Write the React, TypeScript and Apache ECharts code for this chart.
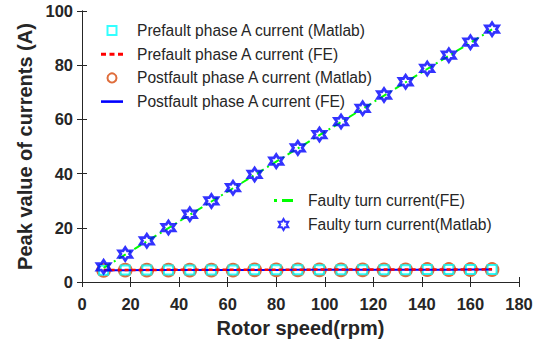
import React, { useEffect, useRef } from "react";
import * as echarts from "echarts";

const rotorSpeed = [8.9, 17.8, 26.7, 35.6, 44.4, 53.3, 62.2, 71.1, 80.0, 88.9, 97.8, 106.7, 115.6, 124.4, 133.3, 142.2, 151.1, 160.0, 168.9];
const prefaultMatlab = [4.3, 4.4, 4.4, 4.4, 4.4, 4.4, 4.4, 4.5, 4.5, 4.5, 4.5, 4.5, 4.5, 4.5, 4.5, 4.6, 4.6, 4.6, 4.6];
const prefaultFE = [4.4, 4.4, 4.4, 4.5, 4.5, 4.5, 4.5, 4.5, 4.5, 4.5, 4.6, 4.6, 4.6, 4.6, 4.6, 4.6, 4.6, 4.6, 4.7];
const postfaultMatlab = [4.3, 4.4, 4.4, 4.4, 4.4, 4.4, 4.4, 4.5, 4.5, 4.5, 4.5, 4.5, 4.5, 4.5, 4.5, 4.6, 4.6, 4.6, 4.6];
const postfaultFE = [4.3, 4.3, 4.4, 4.4, 4.4, 4.4, 4.4, 4.4, 4.4, 4.5, 4.5, 4.5, 4.5, 4.5, 4.5, 4.5, 4.5, 4.6, 4.6];
const faultyFE = [5.2, 10.1, 15.0, 19.9, 24.8, 29.7, 34.6, 39.5, 44.4, 49.3, 54.2, 59.0, 63.9, 68.8, 73.7, 78.6, 83.5, 88.3, 93.2];
const faultyMatlab = [5.6, 10.3, 15.2, 20.1, 25.0, 29.9, 34.8, 39.7, 44.6, 49.5, 54.4, 59.2, 64.1, 69.0, 73.9, 78.8, 83.7, 88.5, 93.3];

const names = [
  "Prefault phase A current (Matlab)",
  "Prefault phase A current (FE)",
  "Postfault phase A current (Matlab)",
  "Postfault phase A current (FE)",
  "Faulty turn current(FE)",
  "Faulty turn current(Matlab)",
];

function hexagramPath(): string {
  const pts: string[] = [];
  for (let i = 0; i < 12; i++) {
    const a = Math.PI / 2 + (i * Math.PI) / 6;
    const r = i % 2 === 0 ? 1 : 0.577;
    const x = 1 + r * Math.cos(a);
    const y = 1 - r * Math.sin(a);
    pts.push(`${i === 0 ? "M" : "L"}${x.toFixed(3)} ${y.toFixed(3)}`);
  }
  return "path://" + pts.join(" ") + " Z";
}

const pairs = (ys: number[]) => rotorSpeed.map((x, i) => [x, ys[i]]);

export default function App() {
  const ref = useRef<HTMLDivElement>(null);
  useEffect(() => {
    if (!ref.current) return;
    const chart = echarts.init(ref.current, null, { renderer: "svg" });
    const font = "Liberation Sans";
    const tickLabel = { fontFamily: font, fontSize: 16.5, fontWeight: "bold" as const, color: "#262626" };
    const axisLine = { lineStyle: { color: "#262626", width: 1 } };
    const star = hexagramPath();
    const legendText = { fontFamily: font, fontSize: 15.6, lineHeight: 15, color: "#262626" };
    const square = "path://M0 0h10v10h-10z";
    const redDash = "path://M0 0h5v3h-5z M8.5 0h5v3h-5z M17 0h5v3h-5z";
    const blueSolid = "path://M0 0h22v2.6h-22z";
    const greenDashDot = "path://M0 0h3v3h-3z M8 0h11v3h-11z";
    chart.setOption({
      animation: false,
      backgroundColor: "#ffffff",
      grid: { left: 82, right: 32, top: 11, bottom: 60 },
      legend: [
        {
          data: [
            { name: names[0], icon: square },
            { name: names[1], icon: redDash },
            { name: names[2], icon: "circle" },
            { name: names[3], icon: blueSolid },
          ],
          orient: "vertical",
          left: 101,
          top: 22.5,
          padding: 0,
          itemWidth: 22,
          itemHeight: 9,
          itemGap: 7.7,
          textStyle: { ...legendText, padding: [0, 0, 0, 9] },
        },
        {
          data: [
            { name: names[4], icon: greenDashDot },
            { name: names[5], icon: star },
          ],
          orient: "vertical",
          left: 274,
          top: 192.5,
          padding: 0,
          itemWidth: 19,
          itemHeight: 11,
          itemGap: 8,
          textStyle: { ...legendText, padding: [0, 0, 0, 10] },
        },
      ],
      xAxis: [
        {
          type: "value",
          min: 0,
          max: 180,
          interval: 20,
          name: "Rotor speed(rpm)",
          nameLocation: "middle",
          nameGap: 36,
          nameTextStyle: { fontFamily: font, fontSize: 20, fontWeight: "bold", color: "#262626" },
          axisLine,
          axisTick: { inside: true, length: 5, lineStyle: { color: "#262626" } },
          axisLabel: { ...tickLabel, margin: 13 },
          splitLine: { show: false },
        },
        {
          type: "value",
          position: "top",
          min: 0,
          max: 180,
          interval: 20,
          axisLine,
          axisTick: { inside: true, length: 5, lineStyle: { color: "#262626" } },
          axisLabel: { show: false },
          splitLine: { show: false },
        },
      ],
      yAxis: [
        {
          type: "value",
          min: 0,
          max: 100,
          interval: 20,
          name: "Peak value of currents (A)",
          nameLocation: "middle",
          nameGap: 47,
          nameTextStyle: { fontFamily: font, fontSize: 20, fontWeight: "bold", color: "#262626" },
          axisLine,
          axisTick: { inside: true, length: 5, lineStyle: { color: "#262626" } },
          axisLabel: { ...tickLabel, margin: 9 },
          splitLine: { show: false },
        },
        {
          type: "value",
          position: "right",
          min: 0,
          max: 100,
          interval: 20,
          axisLine,
          axisTick: { inside: true, length: 5, lineStyle: { color: "#262626" } },
          axisLabel: { show: false },
          splitLine: { show: false },
        },
      ],
      series: [
        {
          name: names[2],
          type: "scatter",
          data: pairs(postfaultMatlab),
          symbol: "circle",
          symbolSize: 12.5,
          itemStyle: { color: "transparent", borderColor: "#D95319", borderWidth: 2.2, opacity: 0.85 },
          z: 2,
        },
        {
          name: names[0],
          type: "scatter",
          data: pairs(prefaultMatlab),
          symbol: "rect",
          symbolSize: 9,
          itemStyle: { color: "transparent", borderColor: "#00FFFF", borderWidth: 2 },
          z: 3,
        },
        {
          name: names[3],
          type: "line",
          data: pairs(postfaultFE),
          symbol: "none",
          lineStyle: { color: "#0000FF", width: 2, type: "solid" },
          itemStyle: { color: "#0000FF" },
          z: 4,
        },
        {
          name: names[1],
          type: "line",
          data: pairs(prefaultFE),
          symbol: "none",
          lineStyle: { color: "#FF0000", width: 2.5, type: [4, 3] },
          itemStyle: { color: "#FF0000" },
          z: 5,
        },
        {
          name: names[4],
          type: "line",
          data: pairs(faultyFE),
          symbol: "none",
          lineStyle: { color: "#00FF00", width: 2, type: [8, 4, 2, 4] },
          itemStyle: { color: "#00FF00" },
          z: 4,
        },
        {
          name: names[5],
          type: "scatter",
          data: pairs(faultyMatlab),
          symbol: star,
          symbolSize: 13,
          itemStyle: { color: "transparent", borderColor: "#0000FF", borderWidth: 2.8 },
          z: 6,
        },
      ],
    });
    return () => chart.dispose();
  }, []);
  return <div ref={ref} style={{ width: 551, height: 343, position: "absolute", left: 0, top: 0 }} />;
}
